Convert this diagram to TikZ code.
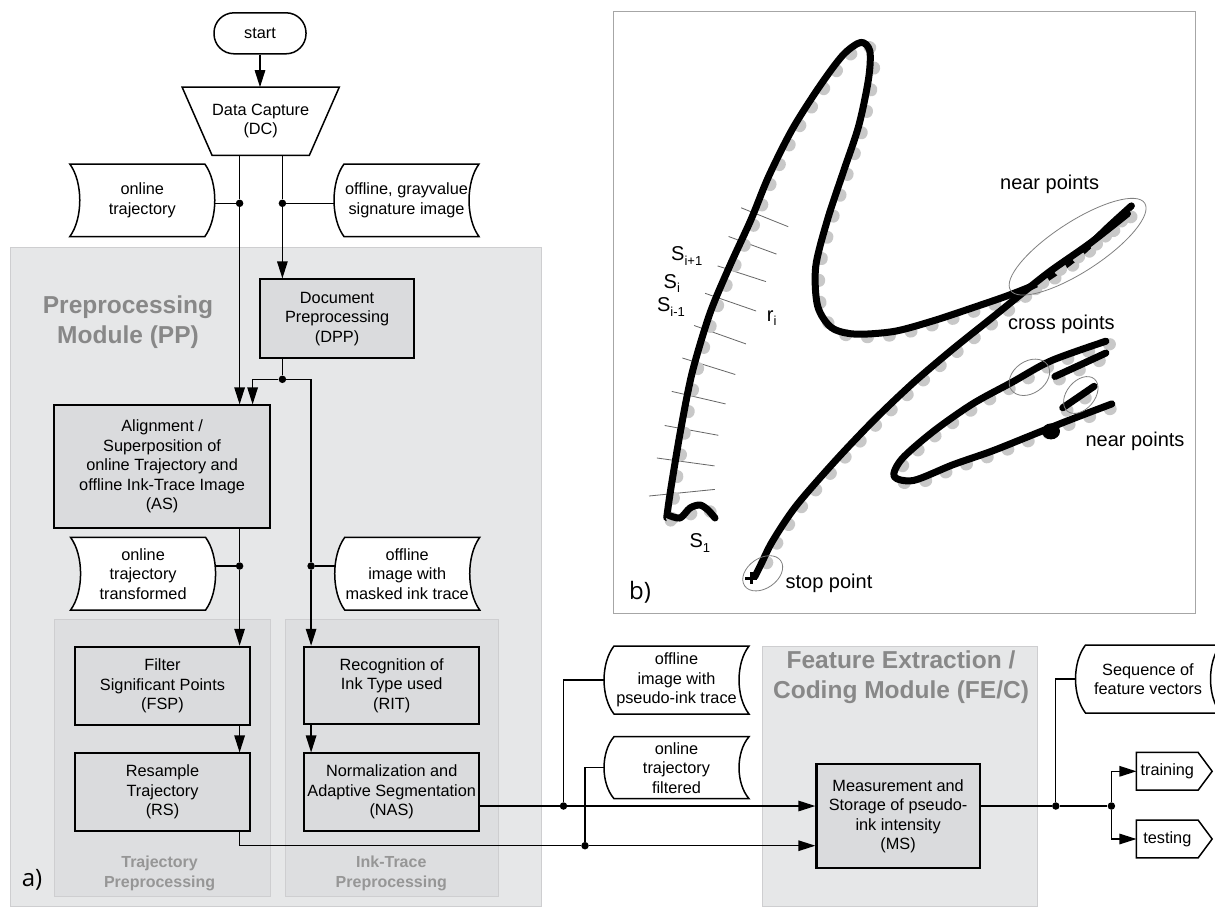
\documentclass[tikz,border=0pt]{standalone}
\usepackage{fontspec}
\setmainfont{Liberation Sans}
\newfontfamily\panelfont{Open Sans}
\usetikzlibrary{arrows.meta}
\definecolor{modulegray}{RGB}{230,231,232}
\definecolor{moduleline}{RGB}{206,206,208}
\definecolor{subgray}{RGB}{221,222,224}
\definecolor{boxgray}{RGB}{218,219,221}
\definecolor{headgray}{RGB}{136,136,136}
\definecolor{subheadgray}{RGB}{150,150,150}
\definecolor{dotgray}{RGB}{200,200,200}
\newcommand{\datastore}[5]{%
  \begin{scope}[shift={(#2)},xscale=#4]
    \draw[storeline] (-62.5,-#3) .. controls (-75.8,-#3/2) and (-75.8,#3/2) .. (-62.5,#3)
      -- (72.5,#3) .. controls (59.2,#3/2) and (59.2,-#3/2) .. (72.5,-#3) -- cycle;
  \end{scope}
  \node[storetext] (#1) at (#2) {#5};
}
\newcommand{\inkstroke}[1]{%
  \draw[inkdots] plot[smooth] coordinates {#1};
  \draw[ink] plot[smooth] coordinates {#1};
}
\newcommand{\lowidx}[1]{\raisebox{-0.45ex}{\fontsize{13}{13}\selectfont #1}}

\begin{document}
\begin{tikzpicture}[x=1pt,y=-1pt,
  >={Triangle[length=17pt,width=10.5pt]},
  txt/.style={font=\fontsize{16.3}{19.5}\selectfont, align=center},
  proc/.style={txt, draw, line width=1.8pt, fill=boxgray, inner sep=0pt},
  term/.style={txt, draw, line width=1.5pt, fill=white, rounded corners=20pt, minimum width=92pt, minimum height=41pt},
  storeline/.style={line width=1.5pt, fill=white},
  storetext/.style={txt, inner sep=0pt, minimum width=145pt},
  outtext/.style={txt, inner sep=0pt, minimum width=61.3pt, minimum height=37.3pt},
  outline/.style={line width=1.5pt},
  link/.style={line width=1.3pt},
  dot/.style={circle, fill=black, inner sep=0pt, minimum size=7.5pt},
  module/.style={fill=modulegray, draw=moduleline, line width=1pt},
  submodule/.style={fill=subgray, draw=moduleline, line width=1pt},
  panel/.style={fill=white, draw=gray!70, line width=0.8pt},
  head/.style={font=\bfseries\fontsize{24.5}{30}\selectfont, text=headgray, align=center},
  subhead/.style={font=\bfseries\fontsize{16}{20}\selectfont, text=subheadgray, align=center},
  panellabel/.style={font=\panelfont\fontsize{24}{24}\selectfont},
  note/.style={font=\fontsize{20}{24}\selectfont, inner sep=0pt},
  ink/.style={line width=7pt, line join=round, line cap=round},
  inkdots/.style={dotgray, line width=12pt, line cap=round, dash pattern=on 1pt off 21pt, shift={(4,3)}},
  ring/.style={draw=gray, line width=0.8pt},
  tick/.style={draw=gray!80!black, line width=0.8pt}]
\useasboundingbox (0,0) rectangle (1215,908);
\draw[module] (10.7,247.3) rectangle (541.5,906);
\draw[submodule] (54.3,619.3) rectangle (270.6,896.7);
\draw[submodule] (285.5,619.3) rectangle (498.3,896.7);
\draw[module] (762.6,646) rectangle (1037,906);
\draw[panel] (613,11.8) rectangle (1195,613.3);

\node[head] (pphead) at (128,322) {Preprocessing\\Module (PP)};
\node[head] (fehead) at (901,677) {Feature Extraction /\\Coding Module (FE/C)};
\node[subhead] (trhead) at (159.6,873.3) {Trajectory\\Preprocessing};
\node[subhead] (ithead) at (391.3,873.3) {Ink-Trace\\Preprocessing};
\node[panellabel] (alabel) at (32,880) {a)};
\node[panellabel] (blabel) at (640,592) {b)};

\node[term] (start) at (260,33.3) {start};
\node[txt, minimum width=93pt, minimum height=67.7pt, inner sep=0pt] (dc) at (260.7,121.2) {Data Capture\\(DC)};
\draw[line width=1.5pt] ([xshift=-29.9pt]dc.north west) -- ([xshift=29.9pt]dc.north east) -- (dc.south east) -- (dc.south west) -- cycle;
\datastore{ot}{142.3,200.3}{36.3}{-1}{online\\trajectory}
\datastore{og}{406.5,200.3}{36.3}{1}{offline, grayvalue\\signature image}
\node[proc, minimum width=153.9pt, minimum height=79pt] (dpp) at (337.1,318.8) {Document\\Preprocessing\\(DPP)};
\node[proc, minimum width=216.2pt, minimum height=122.4pt] (as) at (162.1,466.5) {Alignment /\\Superposition of\\online Trajectory and\\offline Ink-Trace Image\\(AS)};
\datastore{ott}{143.1,573.7}{36.3}{-1}{online\\trajectory\\transformed}
\datastore{om}{407.2,573.7}{36.3}{1}{offline\\image with\\masked ink trace}
\node[proc, minimum width=175.7pt, minimum height=78.3pt] (fsp) at (162.5,685.8) {Filter\\Significant Points\\(FSP)};
\node[proc, minimum width=175.7pt, minimum height=77.7pt] (rs) at (162.5,792.2) {Resample\\Trajectory\\(RS)};
\node[proc, minimum width=175pt, minimum height=77.3pt] (rit) at (391.7,685.3) {Recognition of\\Ink Type used\\(RIT)};
\node[proc, minimum width=175pt, minimum height=77.7pt] (nas) at (391.7,792.2) {Normalization and\\Adaptive Segmentation\\(NAS)};
\datastore{pi}{676.5,680}{34}{1}{offline\\image with\\pseudo-ink trace}
\datastore{tf}{676.5,767.7}{31}{1}{online\\trajectory\\filtered}
\node[proc, line width=2.2pt, minimum width=163.3pt, minimum height=104.3pt] (ms) at (898.1,816.2) {Measurement and\\Storage of pseudo-\\ink intensity\\(MS)};
\datastore{sq}{1148,679}{34}{1}{Sequence of\\feature vectors}
\node[outtext] (train) at (1167.3,771.3) {training};
\node[outtext] (test) at (1167.3,839) {testing};
\foreach \n in {train,test}
  \draw[outline] (\n.north west) -- (\n.north east) -- ([xshift=14pt]\n.east) -- (\n.south east) -- (\n.south west) -- cycle;

\node[dot] (d1) at (239.6,203.3) {};
\node[dot] (d2) at (282.4,203.3) {};
\node[dot] (d3) at (282.4,379.3) {};
\node[dot] (d4) at (239.6,566) {};
\node[dot] (d5) at (311.1,566) {};
\node[dot] (d6) at (563.5,806) {};
\node[dot] (d7) at (585,845.7) {};
\node[dot] (d8) at (1055.8,806) {};
\node[dot] (d9) at (1111.4,806) {};

\draw[link,->] (start) -- (start |- dc.north);
\draw[link,->] (dc.south -| d1) -- (d1) -- (d1 |- as.north);
\draw[link] (d1) -- (d1 -| ot.east);
\draw[link,->] (dc.south -| d2) -- (d2) -- (d2 |- dpp.north);
\draw[link] (d2) -- (d2 -| og.west);
\draw[link] (dpp.south -| d3) -- (d3);
\draw[link,->] (d3) -| ([xshift=13pt]d1 |- as.north);
\draw[link] (d3) -| (d5);
\draw[link,->] (d5) -- (d5 |- rit.north);
\draw[link] (d5) -- (d5 -| om.west);
\draw[link,->] (as.south -| d4) -- (d4) -- (d4 |- fsp.north);
\draw[link] (d4) -- (d4 -| ott.east);
\draw[link,->] (fsp.south -| d4) -- (rs.north -| d4);
\draw[link,->] (rit.south -| d5) -- (nas.north -| d5);
\draw[link,->] (rs.south -| d4) |- (d7) -- (d7 -| ms.west);
\draw[link,->] (d6 -| nas.east) -- (d6) -- (d6 -| ms.west);
\draw[link] (d6) |- (pi.west);
\draw[link] (d7) |- (tf.west);
\draw[link] (d8 -| ms.east) -- (d8) -- (d9);
\draw[link] (d8) |- (sq.west);
\draw[link,->] (d9) |- (train.west);
\draw[link,->] (d9) |- (test.west);

\foreach \xa/\ya/\xb/\yb in {741.2/207.8/788.2/226.7, 728.6/236.5/776.5/254.1, 717.6/265.9/765.9/281.6,
  705.1/293.3/756.1/311, 694.1/325.5/745.9/343.9, 682.4/358/735.3/374.5, 671.8/391.4/725.5/403.9,
  664.7/425.5/718.4/435.3, 656.9/458/714.5/465.9, 649/496/714.9/489.4}
  \draw[tick] (\xa,\ya) -- (\xb,\yb);
\inkstroke{(666.7,517.6) (670.6,490.2) (680.4,431.4) (692.2,372.5) (709.8,313.7) (729.4,266.7) (751,219.6)
  (768.6,176.5) (792.2,129.4) (819.6,86.3) (843.1,54.9) (860.8,42.4) (869.8,51) (868.6,78.4) (858.8,125.5)
  (843.1,172.5) (827.5,219.6) (815.7,266.7) (817.6,305.9) (831.4,327.5) (854.9,334.1) (894.1,331.4)
  (933.3,320.8) (972.5,307.8) (1011.8,294.1) (1043.1,280.4) (1078.4,254.9) (1109.8,225.5) (1131.4,205.9)}
\inkstroke{(668,515) (680,518) (690,508) (700,505) (708,510) (715,518)}
\inkstroke{(1127.5,213.7) (1090.2,243.1) (1051,270.6) (1023.5,292.2) (992.2,317.6) (952.9,349) (913.7,382.4)
  (874.5,419.6) (835.3,460.8) (796.1,505.9) (772.5,541.2) (760.8,564.7) (754.9,576.5)}
\inkstroke{(1105.9,341.2) (1051,360.8) (1011.8,382.4) (972.5,403.9) (933.3,431.4) (902,458.8) (894.1,476.5)
  (913.7,480.4) (953,464.7) (992.2,451) (1031.4,435.3) (1070.6,419.6) (1111.8,403.9)}
\inkstroke{(1054.9,376.5) (1080,365) (1105.9,353)}
\inkstroke{(1062.7,407.8) (1080,396) (1094.1,386.3)}
\fill (1051,431.4) ellipse (9 and 8);
\draw[line width=3pt] (745,578.4) -- (757,578.4) (751,572.4) -- (751,584.4);

\draw[ring, rotate around={33:(1077.6,246.7)}] (1077.6,246.7) ellipse (80 and 25);
\draw[ring, rotate around={35:(1029.4,377.3)}] (1029.4,377.3) ellipse (22 and 16);
\draw[ring, rotate around={50:(1080.8,395)}] (1080.8,395) ellipse (21 and 14);
\draw[ring, rotate around={35:(762.7,573.3)}] (762.7,573.3) ellipse (22 and 15);

\node[note] (np1) at (1049.6,184.3) {near points};
\node[note] (cp) at (1061.4,324.7) {cross points};
\node[note] (np2) at (1135,441.2) {near points};
\node[note] (stp) at (829,583.3) {stop point};
\node[note, anchor=west] (si1) at (671,256) {S\lowidx{i+1}};
\node[note, anchor=west] (si) at (663.5,283.6) {S\lowidx{i}};
\node[note, anchor=west] (sim) at (656.9,307) {S\lowidx{i-1}};
\node[note, anchor=west] (ri) at (766.7,318) {r\lowidx{i}};
\node[note, anchor=west] (s1) at (689.4,543.2) {S\lowidx{1}};
\end{tikzpicture}
\end{document}
